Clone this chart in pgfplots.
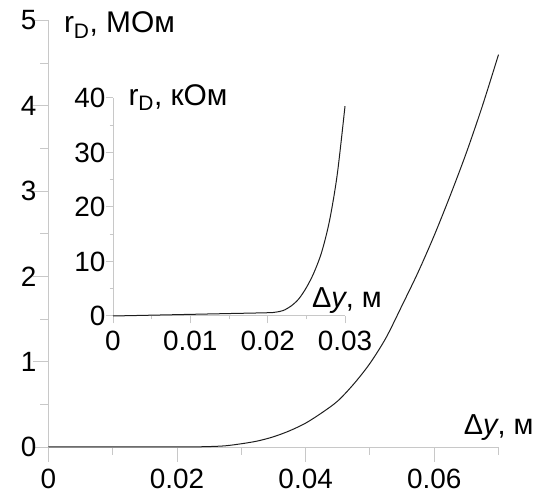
\documentclass[border=0pt]{standalone}
\usepackage{fontspec}
\setmainfont{Liberation Sans}
\usepackage{pgfplots}
\pgfplotsset{compat=1.18}
\definecolor{axgray}{RGB}{200,200,200}
\definecolor{curve}{RGB}{30,30,30}
\pgfplotsset{myax/.style={
  scale only axis, axis lines*=left, enlargelimits=false,
  axis line style={axgray, line width=1bp},
  tick style={axgray, line width=1bp},
  tick align=outside,
  scaled ticks=false,
  /pgf/number format/assume math mode=true,
  tick label style={font=\fontsize{28}{30}\selectfont, text=black, inner sep=0bp},
  xticklabel style={yshift=-7bp},
  clip=false,
}}
\begin{document}
\begin{tikzpicture}
\useasboundingbox (0,0) rectangle (542bp,497bp);
\begin{axis}[myax, at={(48.5bp,50bp)}, anchor=origin, width=450bp, height=426.5bp,
  xmin=0, xmax=0.07, ymin=0, ymax=5,
  xtick={0,0.02,0.04,0.06}, xticklabels={0,0.02,0.04,0.06},
  minor xtick={0.01,0.03,0.05,0.07},
  ytick={0,1,2,3,4,5}, yticklabels={0,1,2,3,4,5},
  minor ytick={0.5,1.5,2.5,3.5,4.5},
  yticklabel style={xshift=3bp},
  major tick length=15bp, minor tick length=8bp,
]
\addplot[curve, line width=1bp, smooth] coordinates {
(0,0) (0.01,0.0003) (0.02,0.0006) (0.0225,0.0015) (0.025,0.005) (0.0275,0.014)
(0.030,0.038) (0.0325,0.07) (0.035,0.12) (0.0375,0.19) (0.040,0.28)
(0.0425,0.40) (0.045,0.54) (0.0475,0.74) (0.050,0.98) (0.0525,1.28)
(0.055,1.66) (0.0575,2.05) (0.060,2.48) (0.0625,2.95) (0.065,3.45)
(0.0675,4.00) (0.070,4.60)
};
\node[anchor=base west, font=\fontsize{30}{32}\selectfont] at (axis cs:0.00187,4.86) {r\textsubscript{D}, МОм};
\node[anchor=base east, font=\fontsize{29}{31}\selectfont] at (axis cs:0.076,0.152) {Δ\textit{y}, м};
\end{axis}
\begin{axis}[myax, at={(113bp,181bp)}, anchor=origin, width=232bp, height=218bp,
  xmin=0, xmax=0.03, ymin=0, ymax=40,
  xtick={0,0.01,0.02,0.03}, xticklabels={0,0.01,0.02,0.03},
  minor xtick={0.005,0.015,0.025},
  ytick={0,10,20,30,40}, yticklabels={0,10,20,30,40},
  minor ytick={5,15,25,35},
  major tick length=7.5bp, minor tick length=3.5bp,
]
\addplot[curve, line width=1bp, smooth] coordinates {
(0,0.0) (0.005,0.15) (0.01,0.3) (0.015,0.45) (0.02,0.6) (0.021,0.7)
(0.022,1.0) (0.023,1.8) (0.024,3.1) (0.025,5.2) (0.026,8.0) (0.027,11.8)
(0.028,17.5) (0.029,26.0) (0.030,38.5)
};
\node[anchor=base west, font=\fontsize{30}{32}\selectfont] at (axis cs:0.00155,38.7) {r\textsubscript{D}, кОм};
\node[anchor=base east, font=\fontsize{29}{31}\selectfont] at (axis cs:0.0352,1.47) {Δ\textit{y}, м};
\end{axis}
\end{tikzpicture}
\end{document}
